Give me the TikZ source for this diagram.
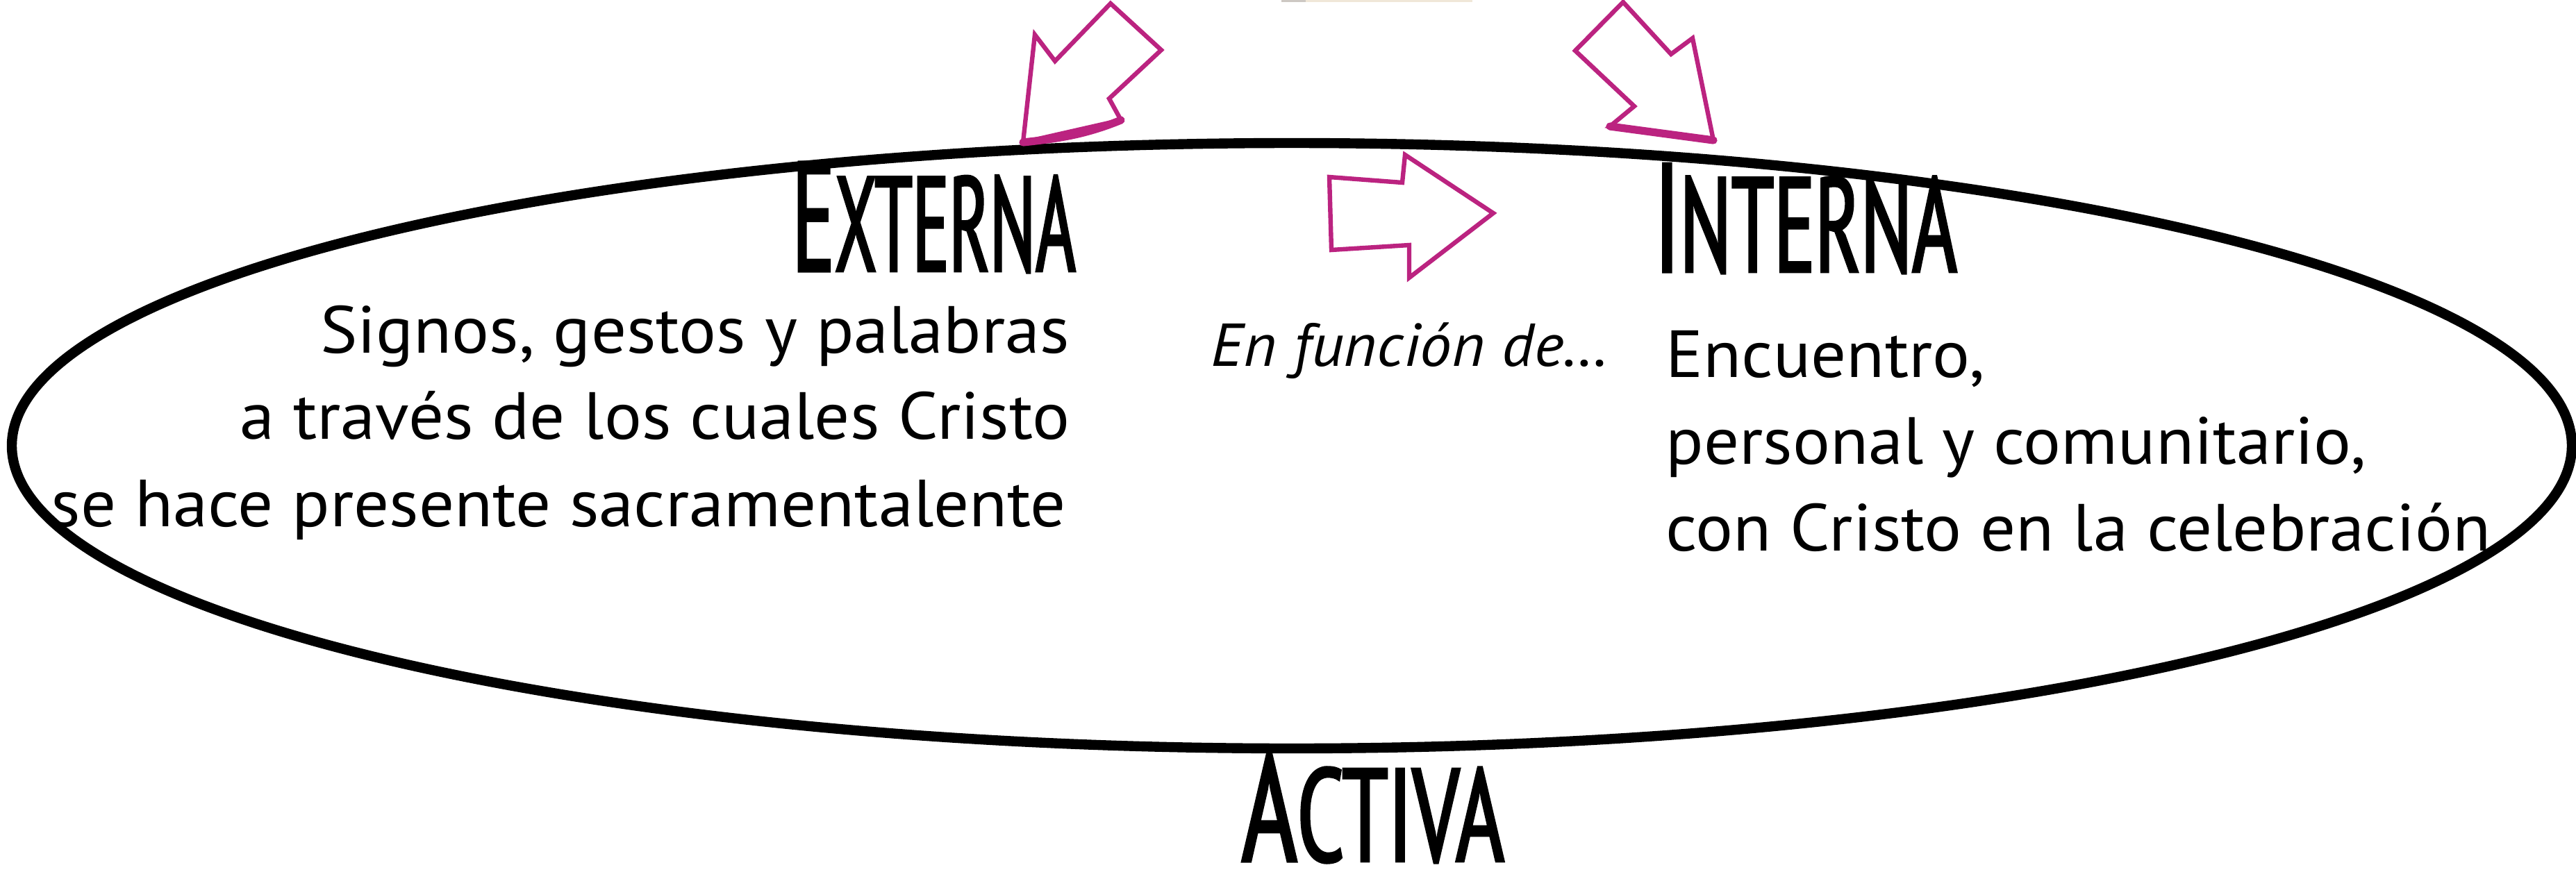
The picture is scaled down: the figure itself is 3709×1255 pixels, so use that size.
\documentclass[tikz,border=0pt]{standalone}
\usepackage{fontspec}
\setmainfont{PT Sans}[FakeStretch=1.05]
\newfontfamily\handfont{PT Sans}[FakeStretch=0.48, FakeBold=1.5]
\definecolor{pinkline}{RGB}{187,35,128}
\definecolor{beige}{RGB}{240,231,216}
\definecolor{beigegray}{RGB}{205,200,195}
\begin{document}
\begin{tikzpicture}[x=0.25pt,y=-0.25pt,
  title/.style={anchor=base west, inner sep=0pt, font=\handfont},
  body/.style={inner sep=0pt, font=\fontsize{24}{28}\selectfont},
  pinkarrow/.style={draw=pinkline, line width=1.6pt, line join=miter, fill=white},
  pinkbase/.style={draw=pinkline, line width=2.8pt, line cap=round}]
\useasboundingbox (0,0) rectangle (3709,1255);
% faint shape at the top
\fill[beige] (1845,0) rectangle (2120,3);
\fill[beigegray] (1845,0) rectangle (1880,3);
% main ellipse
\draw[line width=3.6pt] (1860,642) ellipse [x radius=1843, y radius=436];
% arrows
\draw[pinkarrow] (1473,205) -- (1490,50) -- (1519,88) -- (1599,5) -- (1672,72) -- (1597,142) -- (1614,173) -- cycle;
\draw[pinkbase] (1614,173) .. controls (1560,195) and (1520,200) .. (1473,205);
\draw[pinkarrow] (2337,3) -- (2268,73) -- (2353,153) -- (2318,182) -- (2467,202) -- (2437,55) -- (2406,78) -- cycle;
\draw[pinkbase] (2318,182) -- (2467,202);
\draw[pinkarrow] (1914,255) -- (2019,263) -- (2023,223) -- (2150,307) -- (2029,400) -- (2029,353) -- (1917,360) -- cycle;
% titles
\node[title] (externa) at (1140,391) {\resizebox{102pt}{39.5pt}{{\fontsize{57.9}{60}\selectfont E}{\fontsize{50}{60}\selectfont XTERNA}}};
\node[title] (interna) at (2381,392) {\resizebox{109pt}{39.2pt}{{\fontsize{57.5}{60}\selectfont I}{\fontsize{50}{60}\selectfont NTERNA}}};
\node[title] (activa) at (1787,1241) {\resizebox{94.5pt}{38.8pt}{{\fontsize{57}{60}\selectfont A}{\fontsize{50}{60}\selectfont CTIVA}}};
% left text
\node[body, anchor=base east] (l1) at (1541,508) {Signos, gestos y palabras};
\node[body, anchor=base east] (l2) at (1541,632) {a través de los cuales Cristo};
\node[body, anchor=base east] (l3) at (1536,758) {se hace presente sacramentalente};
% middle
\node[inner sep=0pt, anchor=base west, font=\fontsize{21.8}{26}\selectfont\itshape] (mid) at (1743,527) {En función de…};
% right text
\node[body, anchor=base west] (r1) at (2398,543) {Encuentro,};
\node[body, anchor=base west] (r2) at (2398,668) {personal y comunitario,};
\node[body, anchor=base west] (r3) at (2398,793) {con Cristo en la celebración};
\end{tikzpicture}
\end{document}
